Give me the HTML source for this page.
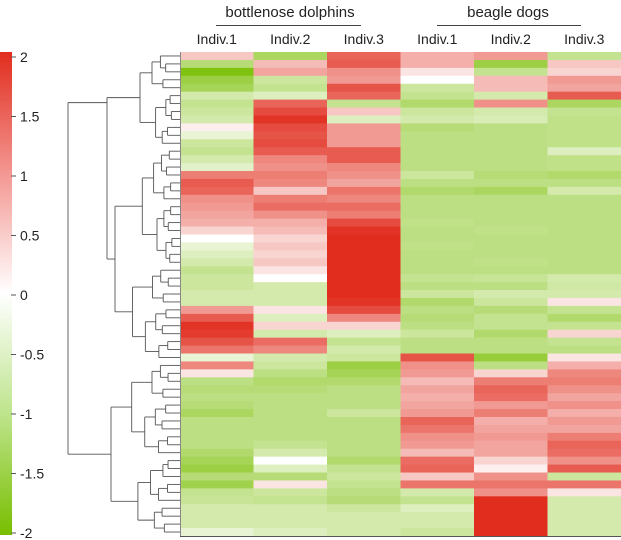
<!DOCTYPE html>
<html><head><meta charset="utf-8">
<style>
html,body{margin:0;padding:0;background:#fff;}
svg{display:block;font-family:"Liberation Sans",sans-serif;}
</style></head>
<body>
<svg id="chart" width="621" height="540" viewBox="0 0 621 540">
<defs>
<linearGradient id="cbar" x1="0" y1="0" x2="0" y2="1">
<stop offset="0" stop-color="rgb(225,45,30)"/>
<stop offset="0.25" stop-color="rgb(243,150,145)"/>
<stop offset="0.5" stop-color="#ffffff"/>
<stop offset="0.75" stop-color="rgb(190,228,140)"/>
<stop offset="1" stop-color="rgb(120,190,0)"/>
</linearGradient>
</defs>
<g>
<text x="290" y="17" font-size="15" text-anchor="middle" fill="#222">bottlenose dolphins</text>
<line x1="216" y1="25.5" x2="361" y2="25.5" stroke="#444" stroke-width="1"/>
<text x="508" y="17" font-size="15" text-anchor="middle" fill="#222">beagle dogs</text>
<line x1="437" y1="25.5" x2="581" y2="25.5" stroke="#444" stroke-width="1"/>
</g>
<g id="cols"></g>
<g id="cells"></g>
<g id="dendro"></g>
<g id="legend">
<rect x="0" y="52" width="12" height="483" fill="url(#cbar)"/>
</g>
<line x1="180.5" y1="52" x2="180.5" y2="536" stroke="#888"/>
<line x1="180" y1="536.5" x2="621" y2="536.5" stroke="#555"/>
</svg>
<script>
const colLabels = ["Indiv.1","Indiv.2","Indiv.3","Indiv.1","Indiv.2","Indiv.3"];
const legendTicks = [2,1.5,1,0.5,0,-0.5,-1,-1.5,-2];
const dolphin1 = [0.3,-0.7,-1.8,-1.2,-1.0,-0.3,-0.5,-0.4,-0.3,0.05,-0.1,-0.4,-0.5,-0.3,-0.15,1.0,1.4,1.3,0.8,0.7,0.6,0.5,0.2,0.0,-0.1,-0.2,-0.3,-0.5,-0.4,-0.4,-0.3,-0.3,0.7,1.4,1.9,1.8,1.5,1.1,-0.1,0.9,0.1,-0.6,-0.7,-0.6,-0.7,-0.9,-0.6,-0.6,-0.6,-0.6,-0.8,-1.0,-1.2,-0.7,-1.1,-0.5,-0.45,-0.3,-0.3,-0.3,-0.1];
const dolphin2 = [-0.9,0.4,0.6,-0.4,-0.5,-0.2,1.3,1.6,1.9,1.6,1.5,1.6,1.4,0.9,0.8,1.0,0.9,0.3,1.0,1.2,0.8,0.5,0.4,0.2,0.3,0.2,0.3,0.1,0.0,-0.3,-0.3,-0.3,0.1,-0.2,0.2,-0.3,1.2,0.9,-0.3,-0.4,-0.6,-0.8,-0.7,-0.6,-0.6,-0.6,-0.6,-0.6,-0.6,-0.5,-0.3,0.0,-0.2,-0.7,0.1,-0.4,-0.5,-0.3,-0.3,-0.3,-0.2];
const dolphin3 = [1.3,1.4,0.8,0.7,1.5,1.3,-0.5,0.3,-0.2,0.7,0.7,0.7,1.4,1.4,0.9,0.8,0.6,1.1,0.9,1.2,1.0,1.6,1.9,2.0,2.0,2.0,2.0,2.0,2.0,2.0,2.0,1.9,1.6,0.9,0.2,-0.2,-0.5,-0.3,-0.4,-1.2,-1.0,-0.8,-0.6,-0.6,-0.6,-0.4,-0.6,-0.6,-0.6,-0.6,-0.6,-0.8,-0.5,-0.4,-0.5,-0.6,-0.7,-0.4,-0.3,-0.3,-0.3];
const beagle1 = [0.5,0.5,0.1,0.0,-0.4,-0.5,-0.8,-0.4,-0.3,-0.7,-0.6,-0.6,-0.6,-0.6,-0.6,-0.4,-0.6,-0.8,-0.6,-0.6,-0.6,-0.55,-0.6,-0.6,-0.55,-0.6,-0.6,-0.6,-0.5,-0.6,-0.4,-0.8,-0.6,-0.7,-0.6,-0.4,-0.6,-0.6,1.5,0.8,0.7,0.4,0.6,0.5,0.6,0.7,1.3,1.1,0.8,0.7,0.4,1.2,1.3,0.3,1.1,-0.3,-0.5,-0.2,-0.3,-0.3,-0.4];
const beagle2 = [0.7,-1.2,-0.5,0.4,0.4,-0.3,0.8,-0.3,-0.25,-0.6,-0.6,-0.6,-0.6,-0.6,-0.6,-0.7,-0.6,-0.9,-0.6,-0.6,-0.6,-0.6,-0.55,-0.6,-0.6,-0.6,-0.55,-0.6,-0.45,-0.6,-0.3,-0.4,-0.7,-0.5,-0.5,-0.8,-0.6,-0.6,-1.3,-0.6,0.2,1.0,1.3,1.2,0.7,1.0,0.5,0.6,0.7,0.6,0.6,0.2,0.05,0.8,1.1,0.8,2.0,2.0,2.0,2.0,2.0];
const beagle3 = [-0.5,0.3,0.2,0.7,0.6,1.4,-0.9,-0.5,-0.55,-0.55,-0.55,-0.55,-0.2,-0.55,-0.55,-0.8,-0.6,-0.3,-0.6,-0.6,-0.6,-0.6,-0.6,-0.6,-0.6,-0.6,-0.6,-0.6,-0.3,-0.35,-0.3,0.1,-0.5,-0.8,-0.5,0.2,-0.5,-0.6,0.1,0.5,0.9,1.0,0.8,0.6,0.8,0.5,0.7,0.6,1.0,1.3,1.2,0.8,1.4,-0.4,1.1,0.1,-0.3,-0.3,-0.3,-0.3,-0.3];
const series = [dolphin1,dolphin2,dolphin3,beagle1,beagle2,beagle3];

const NS = "http://www.w3.org/2000/svg";
const X0 = 180, X1 = 621, Y0 = 52, Y1 = 536;
const nRows = dolphin1.length;
const colW = (X1 - X0) / series.length;
const rowH = (Y1 - Y0) / nRows;
const xCol = c => X0 + c * colW;
const yRow = r => Y0 + r * rowH;
const yLegend = v => 57 + (2 - v) * 119;

function color(v){
  const a = Math.min(Math.abs(v),2)/2;
  let r,g,b;
  if (v >= 0){ const t = Math.pow(a, 0.7); r = 255 - 30*t; g = 255 - 210*t; b = 255 - 225*t; }
  else { const t = Math.pow(a, 0.6); r = 255 - 135*t; g = 255 - 65*t; b = 255 - 255*t; }
  return "rgb(" + Math.round(r) + "," + Math.round(g) + "," + Math.round(b) + ")";
}

const cells = document.getElementById("cells");
series.forEach((arr, c) => {
  arr.forEach((v, r) => {
    const rect = document.createElementNS(NS, "rect");
    rect.setAttribute("x", xCol(c));
    rect.setAttribute("y", yRow(r));
    rect.setAttribute("width", colW + 0.5);
    rect.setAttribute("height", rowH + 0.5);
    rect.setAttribute("fill", color(v));
    
    
    cells.appendChild(rect);
  });
});

const cols = document.getElementById("cols");
colLabels.forEach((l, c) => {
  const t = document.createElementNS(NS, "text");
  t.setAttribute("x", xCol(c) + colW/2);
  t.setAttribute("y", 44);
  t.setAttribute("font-size", "14");
  t.setAttribute("text-anchor", "middle");
  t.setAttribute("fill", "#222");
  t.textContent = l;
  
  
  cols.appendChild(t);
});

const legend = document.getElementById("legend");
legendTicks.forEach(v => {
  const y = yLegend(v);
  const ln = document.createElementNS(NS, "line");
  ln.setAttribute("x1", 11); ln.setAttribute("x2", 16);
  ln.setAttribute("y1", y); ln.setAttribute("y2", y);
  ln.setAttribute("stroke", "#555");
  
  
  legend.appendChild(ln);
  const t = document.createElementNS(NS, "text");
  t.setAttribute("x", 20);
  t.setAttribute("y", y + 5);
  t.setAttribute("font-size", "14");
  t.setAttribute("fill", "#222");
  t.textContent = String(v);
  
  
  legend.appendChild(t);
});

const dendro = document.getElementById("dendro");
function seg(x1,y1,x2,y2){
  const l = document.createElementNS(NS, "line");
  l.setAttribute("x1", x1); l.setAttribute("y1", y1);
  l.setAttribute("x2", x2); l.setAttribute("y2", y2);
  l.setAttribute("stroke", "#555");
  l.setAttribute("stroke-width", "0.9");
  
  
  dendro.appendChild(l);
}
let flip = 0;
function build(lo, hi, x, frac){
  if (hi - lo <= 1){
    const y = yRow(lo) + rowH/2;
    seg(x, y, X0, y);
    return y;
  }
  flip++;
  const r = (flip % 2) ? 0.45 : 0.55;
  const mid = lo + Math.max(1, Math.min(hi-lo-1, Math.round((hi-lo)*r)));
  const xa = x + (X0 - x) * frac * ((flip % 3) ? 1 : 1.4);
  const xb = x + (X0 - x) * frac * ((flip % 3) ? 1.3 : 0.9);
  const ya = build(lo, mid, xa, frac);
  const yb = build(mid, hi, xb, frac);
  seg(x, ya, x, yb);
  seg(x, ya, xa, ya);
  seg(x, yb, xb, yb);
  return (ya + yb) / 2;
}
// upper cluster: small top group + larger group
const yA = build(0, 12, 140, 0.3);
const yB = build(12, 39, 115, 0.3);
seg(107, yA, 107, yB);
seg(107, yA, 140, yA);
seg(107, yB, 115, yB);
const yTop = yA + 5;
const yBot = build(39, nRows, 111, 0.3);
seg(68, yTop, 68, yBot);
seg(68, yTop, 107, yTop);
seg(68, yBot, 111, yBot);
</script>
</body></html>
